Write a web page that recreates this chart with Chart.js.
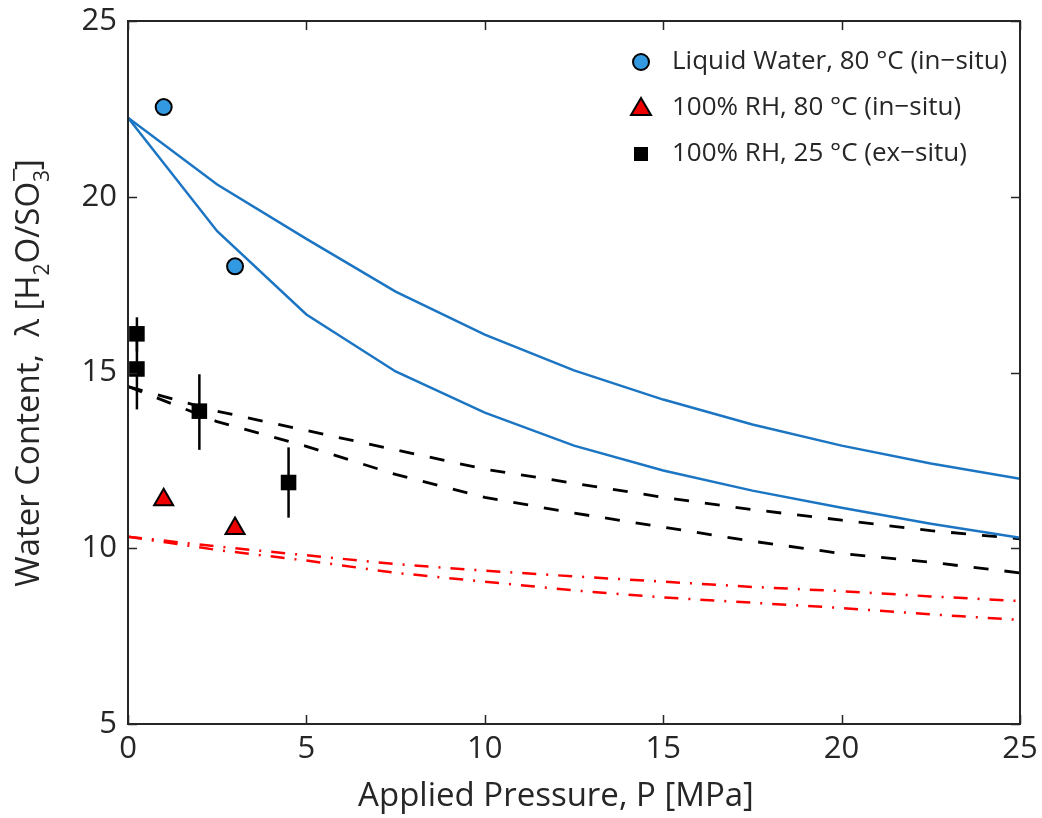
<!DOCTYPE html>
<html>
<head>
<meta charset="utf-8">
<script src="https://cdn.jsdelivr.net/npm/chart.js@4/dist/chart.umd.min.js"></script>
<style>
  body { margin: 0; background: #fff; }
  #wrap { width: 1042px; height: 818px; }
</style>
</head>
<body>
<div id="wrap"><canvas id="grafica" width="1042" height="818"></canvas></div>
<script>
// pressure grid used by the model curves [MPa]
const presion = [0, 2.5, 5, 7.5, 10, 12.5, 15, 17.5, 20, 22.5, 25];

// model curves (lambda)
const azulSup = [22.25, 20.35, 18.8, 17.3, 16.08, 15.06, 14.23, 13.52, 12.92, 12.41, 11.98];
const azulInf = [22.25, 19.02, 16.65, 15.03, 13.86, 12.92, 12.21, 11.64, 11.15, 10.7, 10.3];
const negroSup = [14.6, 13.9, 13.35, 12.8, 12.25, 11.85, 11.45, 11.1, 10.8, 10.5, 10.27];
const negroInf = [14.6, 13.6, 12.9, 12.1, 11.45, 11.0, 10.6, 10.2, 9.85, 9.6, 9.3];
const rojoSup = [10.33, 10.05, 9.8, 9.55, 9.36, 9.2, 9.05, 8.9, 8.78, 8.63, 8.5];
const rojoInf = [10.33, 9.95, 9.65, 9.3, 9.05, 8.8, 8.6, 8.45, 8.3, 8.12, 7.96];

// measurements
const aguaP = [1, 3];
const aguaL = [22.55, 18.02];
const rh80P = [1, 3];
const rh80L = [11.38, 10.56];
const rh25P = [0.25, 0.25, 2, 4.5];
const rh25L = [16.1, 15.1, 13.9, 11.87];
const rh25Min = [15.6, 13.95, 12.8, 10.87];
const rh25Max = [16.57, 16.3, 14.95, 12.87];

const ejeX = [0, 5, 10, 15, 20, 25];
const ejeY = [5, 10, 15, 20, 25];

const tituloX = "Applied Pressure, P [MPa]";
const leyenda = [
    "Liquid Water, 80 \u00B0C (in\u2212situ)",
    "100% RH, 80 \u00B0C (in\u2212situ)",
    "100% RH, 25 \u00B0C (ex\u2212situ)"
];

const fuente = "'Open Sans', 'DejaVu Sans', sans-serif";
const gris = '#262626';
const azul = '#1b75c3';

function puntos(xs, ys) {
    return xs.map((x, i) => ({ x: x, y: ys[i] }));
}

function linea(ys, color, dash, ancho) {
    return {
        data: puntos(presion, ys),
        showLine: true,
        borderColor: color,
        borderWidth: ancho,
        borderDash: dash,
        pointRadius: 0,
        fill: false,
        tension: 0
    };
}

// no extra room for half tick labels, the layout padding handles it
function sinPadding(s) {
    s.paddingTop = 0;
    s.paddingBottom = 0;
    s.paddingLeft = 0;
    s.paddingRight = 0;
}

// error bars for the ex-situ squares
const barrasError = {
    id: 'barrasError',
    beforeDatasetsDraw(chart) {
        const ctx = chart.ctx;
        const sx = chart.scales.x, sy = chart.scales.y;
        ctx.save();
        ctx.strokeStyle = '#000';
        ctx.lineWidth = 2.5;
        for (let i = 0; i < rh25P.length; i++) {
            const px = sx.getPixelForValue(rh25P[i]);
            ctx.beginPath();
            ctx.moveTo(px, sy.getPixelForValue(rh25Min[i]));
            ctx.lineTo(px, sy.getPixelForValue(rh25Max[i]));
            ctx.stroke();
        }
        ctx.restore();
    }
};

// box frame with inward ticks, legend and axis titles
const marco = {
    id: 'marco',
    afterDraw(chart) {
        const ctx = chart.ctx;
        const a = chart.chartArea;
        const sx = chart.scales.x, sy = chart.scales.y;
        ctx.save();
        ctx.strokeStyle = gris;
        ctx.lineWidth = 2;
        ctx.strokeRect(a.left, a.top, a.right - a.left, a.bottom - a.top);
        ctx.lineWidth = 1.5;
        ctx.beginPath();
        ejeX.forEach(v => {
            const px = Math.round(sx.getPixelForValue(v)) + 0.5;
            ctx.moveTo(px, a.bottom); ctx.lineTo(px, a.bottom - 9);
            ctx.moveTo(px, a.top); ctx.lineTo(px, a.top + 9);
        });
        ejeY.forEach(v => {
            const py = Math.round(sy.getPixelForValue(v)) + 0.5;
            ctx.moveTo(a.left, py); ctx.lineTo(a.left + 9, py);
            ctx.moveTo(a.right, py); ctx.lineTo(a.right - 9, py);
        });
        ctx.stroke();

        // legend
        const lx = 641, tx = 672, filas = [62, 108, 154];
        ctx.lineWidth = 2;
        ctx.strokeStyle = '#000';
        ctx.beginPath();
        ctx.arc(lx, filas[0], 8, 0, Math.PI * 2);
        ctx.fillStyle = '#3399e0';
        ctx.fill();
        ctx.stroke();
        ctx.beginPath();
        ctx.moveTo(lx, filas[1] - 10);
        ctx.lineTo(lx + 10, filas[1] + 7);
        ctx.lineTo(lx - 10, filas[1] + 7);
        ctx.closePath();
        ctx.fillStyle = '#ee0000';
        ctx.fill();
        ctx.stroke();
        ctx.fillStyle = '#000';
        ctx.fillRect(lx - 7, filas[2] - 7, 14, 14);

        ctx.fillStyle = gris;
        ctx.font = "26px " + fuente;
        ctx.textBaseline = 'middle';
        ctx.textAlign = 'left';
        leyenda.forEach((t, i) => ctx.fillText(t, tx, filas[i]));

        // x title
        ctx.font = "33px " + fuente;
        ctx.textAlign = 'center';
        ctx.fillText(tituloX, 556, 797);

        // y title with sub/superscripts ("3" and "-" stacked)
        ctx.textAlign = 'left';
        const partes = [
            { t: "Water Content,  \u03BB [H", s: 33, d: 0, avanza: true },
            { t: "2", s: 21, d: 13, avanza: true },
            { t: "O/SO", s: 33, d: 0, avanza: true },
            { t: "\u2212", s: 26, d: -14, avanza: false },
            { t: "3", s: 21, d: 13, avanza: true },
            { t: "]", s: 33, d: 0, avanza: true }
        ];
        let total = 0;
        partes.forEach(p => {
            ctx.font = p.s + "px " + fuente;
            p.w = ctx.measureText(p.t).width;
            if (p.avanza) total += p.w;
        });
        ctx.translate(30, 373);
        ctx.rotate(-Math.PI / 2);
        let pos = -total / 2;
        partes.forEach(p => {
            ctx.font = p.s + "px " + fuente;
            ctx.fillText(p.t, pos, p.d);
            if (p.avanza) pos += p.w;
        });
        ctx.restore();
    }
};

const config = {
    type: 'scatter',
    data: {
        datasets: [
            {
                data: puntos(aguaP, aguaL),
                pointStyle: 'circle',
                pointRadius: 8,
                backgroundColor: '#3399e0',
                borderColor: '#000',
                borderWidth: 2
            },
            {
                data: puntos(rh80P, rh80L),
                pointStyle: 'triangle',
                pointRadius: 11,
                backgroundColor: '#ee0000',
                borderColor: '#000',
                borderWidth: 2
            },
            {
                data: puntos(rh25P, rh25L),
                pointStyle: 'rect',
                pointRadius: 11,
                backgroundColor: '#000',
                borderColor: '#000',
                borderWidth: 0
            },
            linea(azulSup, azul, [], 2.5),
            linea(azulInf, azul, [], 2.5),
            linea(negroSup, '#000', [15, 16], 2.8),
            linea(negroInf, '#000', [15, 16], 2.8),
            linea(rojoSup, '#ff0000', [14, 10, 2, 10], 2.5),
            linea(rojoInf, '#ff0000', [14, 10, 2, 10], 2.5)
        ]
    },
    options: {
        responsive: false,
        animation: false,
        layout: { padding: { left: 0, right: 22, top: 21, bottom: 0 } },
        plugins: {
            legend: { display: false },
            tooltip: { enabled: false }
        },
        scales: {
            x: {
                type: 'linear',
                min: 0,
                max: 25,
                afterFit: (s) => { s.height = 94; sinPadding(s); },
                afterBuildTicks: (s) => { s.ticks = ejeX.map(v => ({ value: v })); },
                grid: { display: false, drawTicks: false },
                border: { display: false },
                ticks: { padding: 7, color: gris, font: { family: fuente, size: 31 } }
            },
            y: {
                type: 'linear',
                min: 5,
                max: 25,
                afterFit: (s) => { s.width = 128; sinPadding(s); },
                afterBuildTicks: (s) => { s.ticks = ejeY.map(v => ({ value: v })); },
                grid: { display: false, drawTicks: false },
                border: { display: false },
                ticks: { padding: 11, color: gris, font: { family: fuente, size: 31 } }
            }
        }
    },
    plugins: [barrasError, marco]
};

let grafica = new Chart(document.getElementById('grafica'), config);
</script>
</body>
</html>
